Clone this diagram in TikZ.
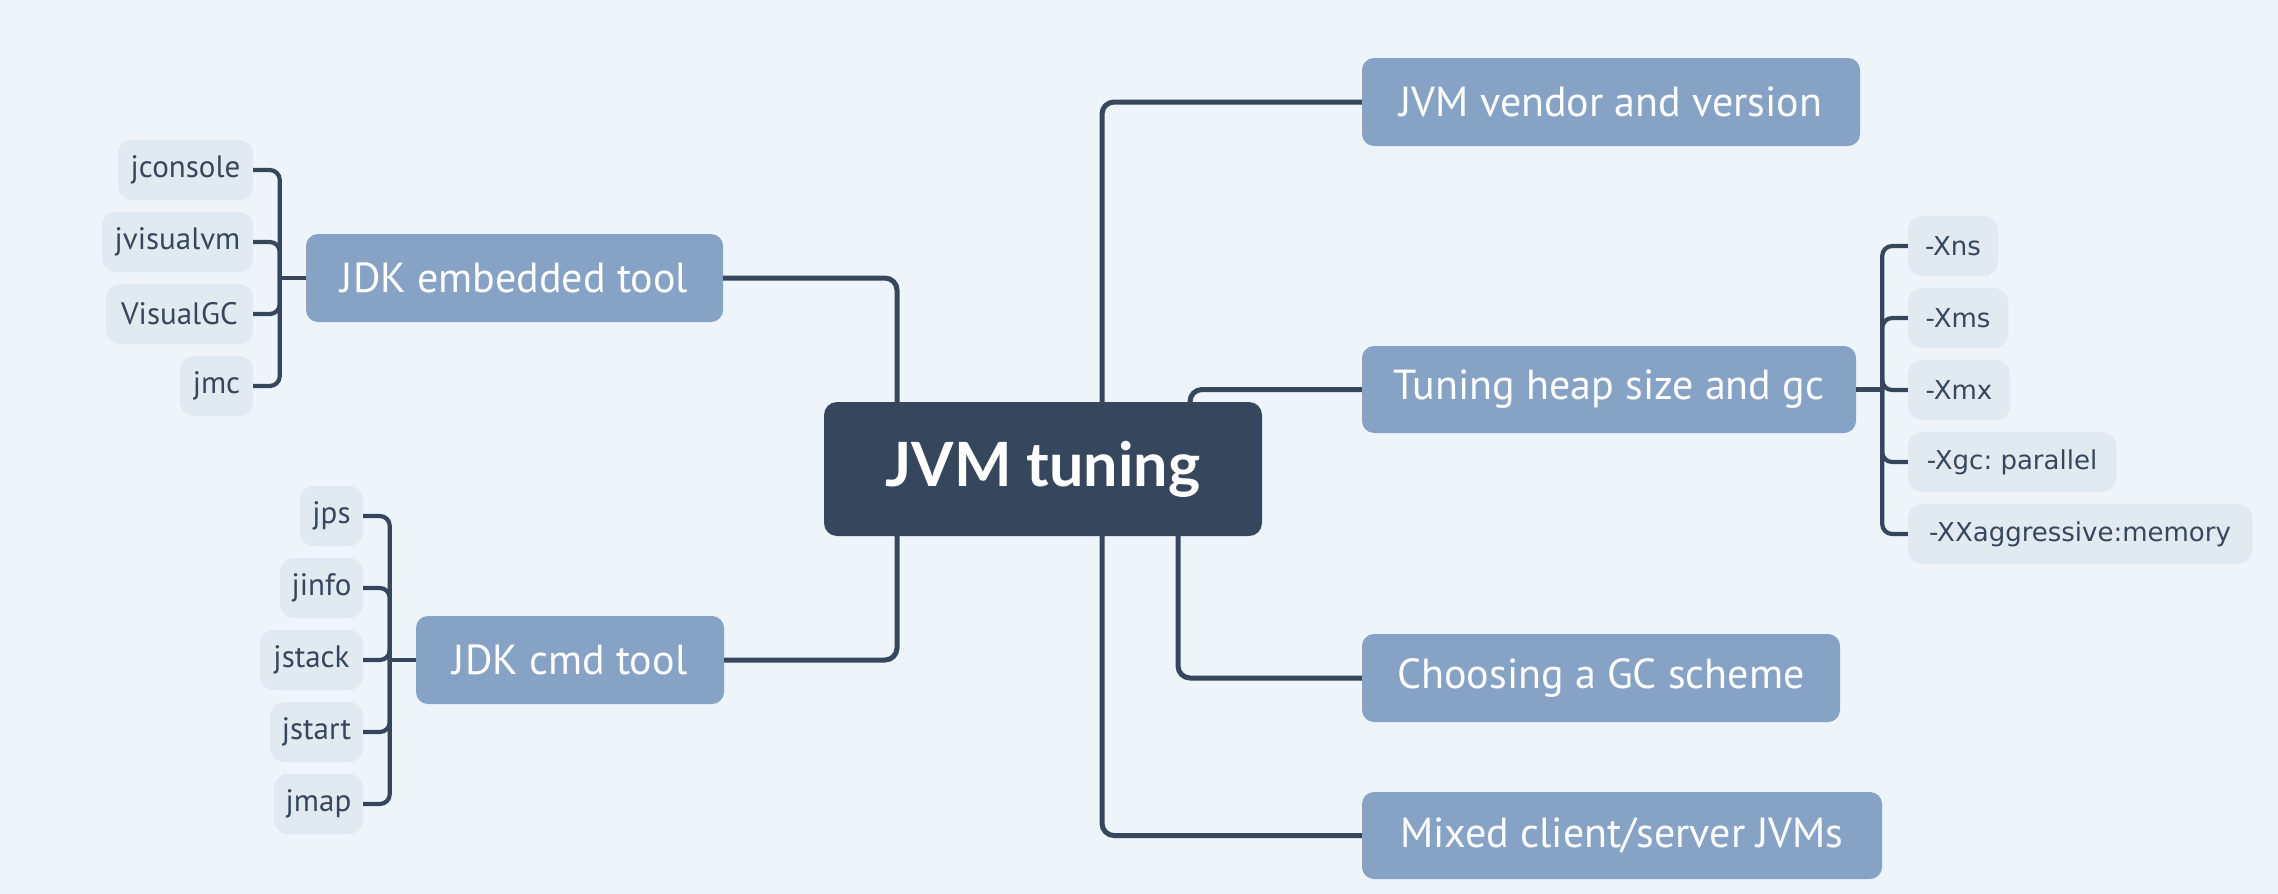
\documentclass[tikz,border=0pt]{standalone}
\usepackage{fontspec}
\setmainfont{PT Sans}
\newfontfamily\leaffont{DejaVu Sans}
\newfontfamily\rootfont{Lato}
\definecolor{bg}{HTML}{EDF4FA}
\definecolor{dark}{HTML}{36475D}
\definecolor{branch}{HTML}{86A3C6}
\definecolor{leaf}{HTML}{E1E9F1}
\tikzset{
  sz/.style 2 args={minimum width=#1pt, minimum height=#2pt},
  rootbox/.style={fill=dark, rounded corners=13pt, inner sep=0pt, text=white,
    font=\rootfont\bfseries\fontsize{61}{66}\selectfont},
  branchbox/.style={fill=branch, rounded corners=12pt, inner sep=0pt, text=white,
    font=\fontsize{42}{48}\selectfont},
  lleaf/.style={fill=leaf, rounded corners=14pt, inner sep=0pt, text=dark,
    font=\fontsize{31}{36}\selectfont},
  rleaf/.style={fill=leaf, rounded corners=14pt, inner sep=0pt, text=dark,
    font=\leaffont\fontsize{26}{30}\selectfont},
  mainline/.style={draw=dark, line width=5pt, rounded corners=12pt},
  leafline/.style={draw=dark, line width=4.2pt, rounded corners=10pt},
}
\begin{document}
\frenchspacing
\begin{tikzpicture}[x=1pt,y=-1pt]
\useasboundingbox (0,0) rectangle (2278,894);
\fill[bg] (0,0) rectangle (2278,894);

% root and branches
\node[rootbox, sz={438}{134}] (root) at (1043,469) {JVM tuning};
\node[branchbox, sz={417}{88}] (embed) at (514.5,278) {JDK embedded tool};
\node[branchbox, sz={308}{88}] (cmd) at (570,660) {JDK cmd tool};
\node[branchbox, sz={498}{88}] (vendor) at (1611,102) {JVM vendor and version};
\node[branchbox, sz={494}{87}] (heap) at (1609,389.5) {Tuning heap size and gc};
\node[branchbox, sz={478}{88}] (choose) at (1601,678) {Choosing a GC scheme};
\node[branchbox, sz={520}{87}] (mixed) at (1622,835.5) {Mixed client/server JVMs};

% left leaves (embedded)
\node[lleaf, sz={135}{60}] (jconsole) at (185.5,170) {jconsole};
\node[lleaf, sz={151}{60}] (jvisualvm) at (177.5,242) {jvisualvm};
\node[lleaf, sz={147}{60}] (visualgc) at (179.5,314) {VisualGC};
\node[lleaf, sz={73}{60}] (jmc) at (216.5,386) {jmc};
% left leaves (cmd)
\node[lleaf, sz={63}{60}] (jps) at (331.5,516) {jps};
\node[lleaf, sz={83}{60}] (jinfo) at (321.5,588) {jinfo};
\node[lleaf, sz={103}{60}] (jstack) at (311.5,660) {jstack};
\node[lleaf, sz={93}{60}] (jstart) at (316.5,732) {jstart};
\node[lleaf, sz={89}{60}] (jmap) at (318.5,804) {jmap};
% right leaves
\node[rleaf, sz={90}{60}] (xns) at (1953,246) {-Xns};
\node[rleaf, sz={100}{60}] (xms) at (1958,318) {-Xms};
\node[rleaf, sz={102}{60}] (xmx) at (1959,390) {-Xmx};
\node[rleaf, sz={208}{60}] (xgc) at (2012,462) {-Xgc: parallel};
\node[rleaf, sz={344}{60}] (xxa) at (2080,534) {-XXaggressive:memory};

% main connectors
\draw[mainline] ([xshift=-146pt]root.north) |- (embed.east);
\draw[mainline] ([xshift=-146pt]root.south) |- (cmd.east);
\draw[mainline] ([xshift=59pt]root.north) |- (vendor.west);
\draw[mainline] ([xshift=147pt]root.north) |- (heap.west);
\draw[mainline] ([xshift=135pt]root.south) |- (choose.west);
\draw[mainline] ([xshift=59pt]root.south) |- (mixed.west);

% bracket junctions
\coordinate (eb) at ([xshift=-26pt]embed.west);
\coordinate (cb) at ([xshift=-26pt]cmd.west);
\coordinate (hb) at ([xshift=26pt]heap.east);

\draw[leafline] (eb) -- (embed.west);
\foreach \n in {jconsole,jvisualvm,visualgc,jmc}
  \draw[leafline] (\n.east) -| (eb);
\draw[leafline] (cb) -- (cmd.west);
\foreach \n in {jps,jinfo,jstack,jstart,jmap}
  \draw[leafline] (\n.east) -| (cb);
\draw[leafline] (heap.east) -- (hb);
\foreach \n in {xns,xms,xmx,xgc,xxa}
  \draw[leafline] (hb) |- (\n.west);
\end{tikzpicture}
\end{document}
